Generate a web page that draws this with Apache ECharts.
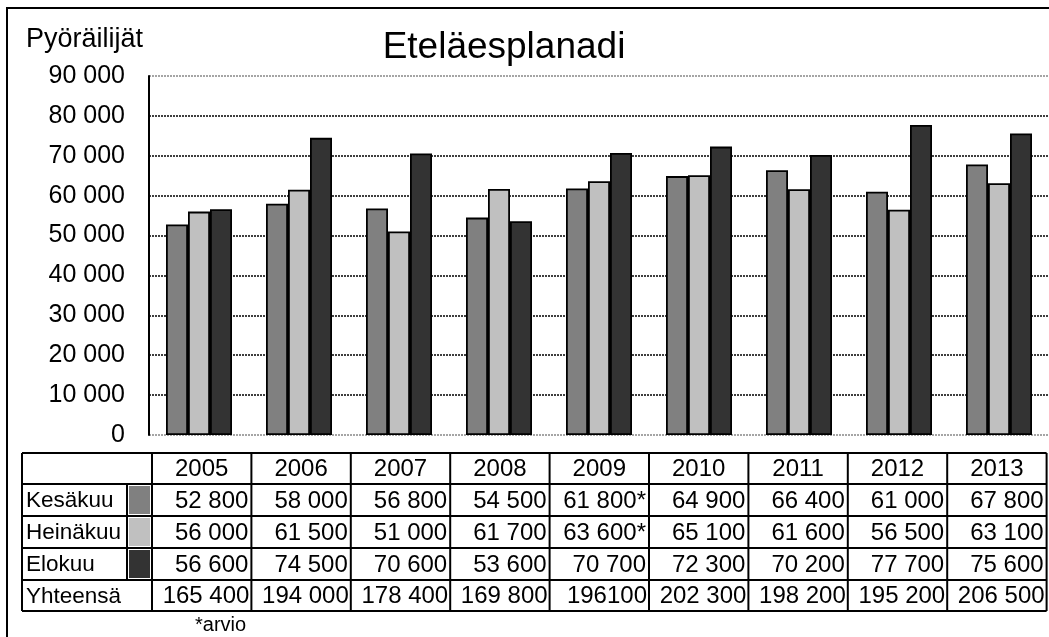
<!DOCTYPE html>
<html>
<head>
<meta charset="utf-8">
<script src="https://cdn.jsdelivr.net/npm/echarts@6/dist/echarts.min.js"></script>
<style>
  html, body { margin: 0; padding: 0; background: #fff; }
  #chart { width: 1049px; height: 637px; }
</style>
</head>
<body>
<div id="chart"></div>
<script>
// data
const years = ['2005', '2006', '2007', '2008', '2009', '2010', '2011', '2012', '2013'];
const seriesNames = ['Kesäkuu', 'Heinäkuu', 'Elokuu'];
const kesakuu = [52800, 58000, 56800, 54500, 61800, 64900, 66400, 61000, 67800];
const heinakuu = [56000, 61500, 51000, 61700, 63600, 65100, 61600, 56500, 63100];
const elokuu = [56600, 74500, 70600, 53600, 70700, 72300, 70200, 77700, 75600];
const totalLabels = ['165 400', '194 000', '178 400', '169 800', '196100', '202 300', '198 200', '195 200', '206 500'];
const estimated = ['2009']; // *arvio for Kesäkuu and Heinäkuu
const colors = ['#808080', '#c0c0c0', '#333333'];

const FONT = '"Liberation Sans", Arial, sans-serif';

function fmt(v) {
  return String(v).replace(/\B(?=(\d{3})+(?!\d))/g, ' ');
}

const chart = echarts.init(document.getElementById('chart'));

// table layout
const tLeft = 22, tSplit = 127, tCol0 = 152, colW = 99.4;
const rowY = [453, 484, 516, 548, 580, 611];
const tRight = tCol0 + colW * years.length;
const tFont = '24px ' + FONT;
const lFont = '22.5px ' + FONT;

const g = [];
// outer frame
g.push({ type: 'rect', shape: { x: 7, y: 8, width: 1100, height: 700 }, style: { fill: 'none', stroke: '#000', lineWidth: 2 }, silent: true });
// title and axis name
g.push({ type: 'text', style: { text: 'Eteläesplanadi', x: 504, y: 48, font: '37px ' + FONT, fill: '#000', textAlign: 'center', textVerticalAlign: 'middle' } });
g.push({ type: 'text', style: { text: 'Pyöräilijät', x: 26, y: 40, font: '27px ' + FONT, fill: '#000', textAlign: 'left', textVerticalAlign: 'middle' } });

// table lines
function hline(x1, x2, y) {
  g.push({ type: 'line', shape: { x1: x1, y1: y, x2: x2, y2: y }, style: { stroke: '#000', lineWidth: 2 } });
}
function vline(x, y1, y2) {
  g.push({ type: 'line', shape: { x1: x, y1: y1, x2: x, y2: y2 }, style: { stroke: '#000', lineWidth: 2 } });
}
rowY.forEach(y => hline(tLeft, tRight, y));
vline(tLeft, rowY[0], rowY[5]);
for (let i = 0; i <= years.length; i++) vline(tCol0 + colW * i, rowY[0], rowY[5]);
vline(tSplit, rowY[1], rowY[4]);

// header
years.forEach((y, i) => {
  g.push({ type: 'text', style: { text: y, x: tCol0 + colW * (i + 0.5), y: (rowY[0] + rowY[1]) / 2 + 1, font: tFont, fill: '#000', textAlign: 'center', textVerticalAlign: 'middle' } });
});
// series rows
const rows = [kesakuu, heinakuu, elokuu];
rows.forEach((vals, r) => {
  const cy = (rowY[r + 1] + rowY[r + 2]) / 2 + 1;
  g.push({ type: 'text', style: { text: seriesNames[r], x: tLeft + 4, y: cy, font: lFont, fill: '#000', textAlign: 'left', textVerticalAlign: 'middle' } });
  g.push({ type: 'rect', shape: { x: tSplit + 2, y: rowY[r + 1] + 2, width: tCol0 - tSplit - 4, height: rowY[r + 2] - rowY[r + 1] - 4 }, style: { fill: colors[r] } });
  vals.forEach((v, i) => {
    const star = (r < 2 && estimated.indexOf(years[i]) >= 0) ? '*' : '';
    g.push({ type: 'text', style: { text: fmt(v) + star, x: tCol0 + colW * (i + 1) - 3, y: cy, font: tFont, fill: '#000', textAlign: 'right', textVerticalAlign: 'middle' } });
  });
});
// totals row
const ty = (rowY[4] + rowY[5]) / 2 + 1;
g.push({ type: 'text', style: { text: 'Yhteensä', x: tLeft + 4, y: ty, font: lFont, fill: '#000', textAlign: 'left', textVerticalAlign: 'middle' } });
totalLabels.forEach((t, i) => {
  g.push({ type: 'text', style: { text: t, x: tCol0 + colW * (i + 1) - 2, y: ty, font: tFont, fill: '#000', textAlign: 'right', textVerticalAlign: 'middle' } });
});
g.push({ type: 'text', style: { text: '*arvio', x: 195, y: 625, font: '20px ' + FONT, fill: '#000', textAlign: 'left', textVerticalAlign: 'middle' } });

const option = {
  animation: false,
  backgroundColor: '#fff',
  grid: { left: 149, top: 76, width: 902, height: 359 },
  xAxis: {
    type: 'category',
    data: years,
    axisLine: { show: false },
    axisTick: { show: false },
    axisLabel: { show: false }
  },
  yAxis: {
    type: 'value',
    min: 0,
    max: 90000,
    interval: 10000,
    axisLine: { show: true, lineStyle: { color: '#000', width: 2 } },
    axisTick: { show: false },
    axisLabel: {
      color: '#000',
      fontFamily: FONT,
      fontSize: 25,
      margin: 24,
      formatter: v => fmt(v)
    },
    splitLine: {
      show: true,
      lineStyle: {
        type: [2, 1],
        width: 1.5,
        color: ['#888', '#000', '#000', '#000', '#000', '#000', '#000', '#000', '#000']
      }
    }
  },
  series: [kesakuu, heinakuu, elokuu].map((d, i) => ({
    name: seriesNames[i],
    type: 'bar',
    data: d,
    barWidth: 22,
    barGap: '0%',
    itemStyle: { color: colors[i], borderColor: '#000', borderWidth: 1.8 }
  })),
  graphic: g
};
chart.setOption(option);
</script>
</body>
</html>
